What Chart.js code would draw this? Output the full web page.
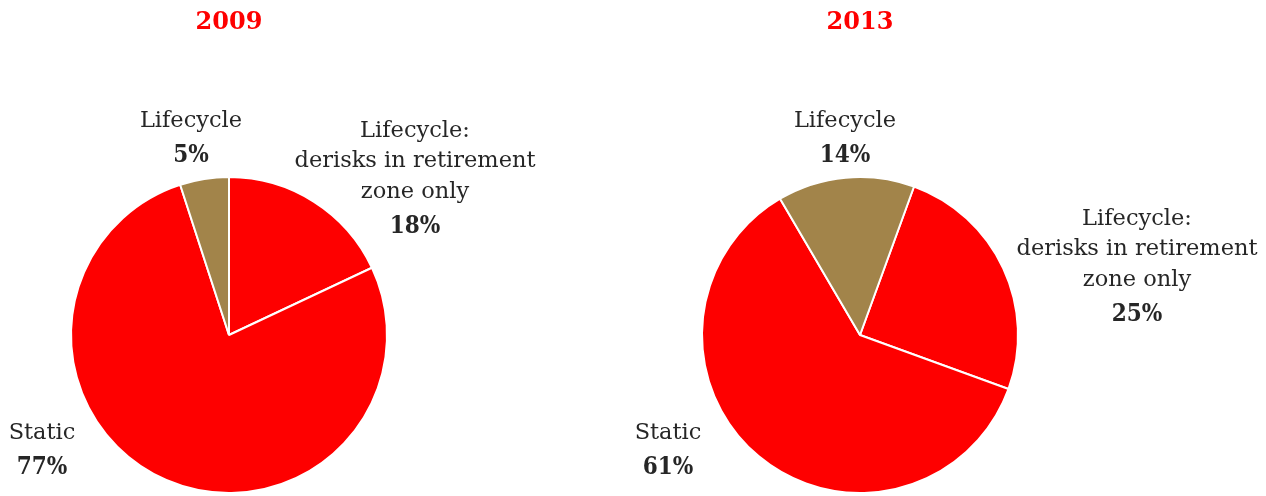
<!DOCTYPE html>
<html>
<head>
<meta charset="utf-8">
<script src="https://cdn.jsdelivr.net/npm/chart.js@4/dist/chart.umd.min.js"></script>
<style>
  html, body { margin: 0; padding: 0; background: #fff; }
  #wrap { position: relative; width: 1266px; height: 496px; }
  canvas { position: absolute; top: 0; }
</style>
</head>
<body>
<div id="wrap">
  <canvas id="pie2009" width="633" height="496" style="left:0"></canvas>
  <canvas id="pie2013" width="633" height="496" style="left:633px"></canvas>
</div>
<script>
// slice order: clockwise from the start angle
const categories = ["Lifecycle: derisks in retirement zone only", "Static", "Lifecycle"];
const labelLines = [["Lifecycle:", "derisks in retirement", "zone only"], ["Static"], ["Lifecycle"]];
const years = ["2009", "2013"];
const values2009 = [18, 77, 5];
const values2013 = [25, 61, 14];

const RED = "#fe0000";
const GOLD = "#a2844a";
const TEXT = "#262626";
const FONT = "'DejaVu Serif', 'Liberation Serif', serif";

// draws the year title and the outside slice labels
const sliceLabels = {
  id: "sliceLabels",
  afterDraw(chart, args, opts) {
    const ctx = chart.ctx;
    const meta = chart.getDatasetMeta(0);
    const arc = meta.data[0];
    const cx = arc.x;
    const cy = arc.y;
    const values = chart.data.datasets[0].data;

    ctx.save();
    ctx.textAlign = "center";
    ctx.textBaseline = "middle";

    ctx.fillStyle = RED;
    ctx.font = "bold 24px " + FONT;
    ctx.fillText(opts.title, cx, 23);

    opts.offsets.forEach(([dx, dy], i) => {
      const lines = labelLines[i];
      let y = cy + dy;
      ctx.fillStyle = TEXT;
      ctx.fontStretch = "normal";
      ctx.font = "22.5px " + FONT;
      lines.forEach((line, j) => {
        if (j > 0) y += 30.5;
        ctx.fillText(line, cx + dx, y);
      });
      y += 35;
      ctx.font = "bold 24px " + FONT;
      ctx.fontStretch = "condensed";
      ctx.fillText(values[i] + "%", cx + dx, y);
    });
    ctx.restore();
  }
};

function makePie(id, title, values, rotation, padding, offsets) {
  return new Chart(document.getElementById(id), {
    type: "pie",
    data: {
      labels: categories,
      datasets: [
        {
          data: values,
          backgroundColor: [RED, RED, GOLD],
          borderColor: "#ffffff",
          borderWidth: 2
        }
      ]
    },
    options: {
      responsive: false,
      animation: false,
      rotation: rotation,
      layout: { padding: padding },
      plugins: {
        legend: { display: false },
        tooltip: { enabled: false },
        sliceLabels: { title: title, offsets: offsets }
      }
    },
    plugins: [sliceLabels]
  });
}

makePie("pie2009", years[0], values2009, 0,
  { left: 70, right: 245, top: 176, bottom: 2 },
  [[186, -204], [-187, 98], [-38, -214]]);

makePie("pie2013", years[1], values2013, 20,
  { left: 68, right: 247, top: 176, bottom: 2 },
  [[277, -116], [-192, 98], [-15, -214]]);
</script>
</body>
</html>
